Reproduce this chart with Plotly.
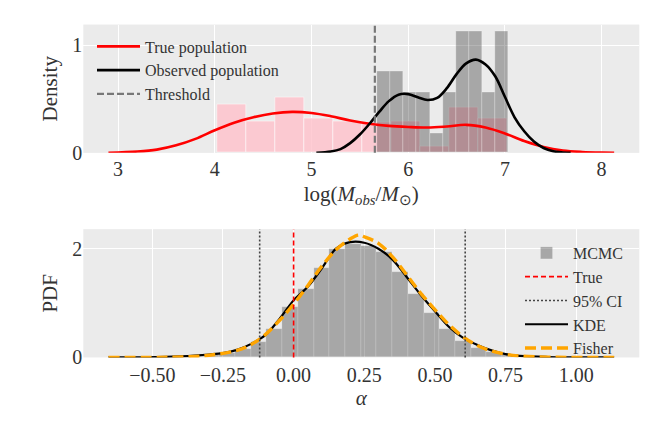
import numpy as np
import plotly.graph_objects as go

# ---------------- Top panel data ----------------
true_hist_edges = [4.03, 4.33, 4.63, 4.93, 5.23, 5.53, 5.83, 6.13, 6.43, 6.73, 7.03]
true_hist_density = [0.45, 0.29, 0.515, 0.32, 0.29, 0.28, 0.295, 0.054, 0.42, 0.32]

obs_hist_edges = [5.683, 5.818, 5.953, 6.088, 6.224, 6.359, 6.494, 6.630, 6.765, 6.900, 7.035]
obs_hist_density = [0.75, 0.75, 0.56, 0.56, 0.18, 0.56, 1.125, 1.125, 0.56, 1.125]

true_kde_x = [2.9, 3.2, 3.4, 3.6, 3.8, 4.0, 4.2, 4.4, 4.6, 4.8, 5.0, 5.2, 5.4, 5.6, 5.8,
              6.0, 6.2, 6.4, 6.6, 6.8, 7.0, 7.2, 7.4, 7.6, 7.8, 8.0, 8.13]
true_kde_y = [0.001, 0.012, 0.03, 0.07, 0.13, 0.21, 0.28, 0.33, 0.365, 0.38, 0.37, 0.34, 0.30,
              0.27, 0.25, 0.24, 0.235, 0.245, 0.26, 0.235, 0.18, 0.11, 0.055, 0.022, 0.008,
              0.002, 0.0005]

obs_kde_x = [5.05, 5.2, 5.3, 5.4, 5.5, 5.6, 5.7, 5.8, 5.9, 6.0, 6.1, 6.2, 6.3, 6.4, 6.5,
             6.6, 6.7, 6.8, 6.9, 7.0, 7.1, 7.2, 7.3, 7.4, 7.5, 7.6, 7.68]
obs_kde_y = [0.0, 0.012, 0.035, 0.09, 0.17, 0.27, 0.38, 0.48, 0.54, 0.545, 0.515, 0.49, 0.51,
             0.6, 0.73, 0.83, 0.865, 0.82, 0.71, 0.52, 0.33, 0.2, 0.105, 0.045, 0.015, 0.004, 0.0]

threshold = 5.655
top_xticks = [3, 4, 5, 6, 7, 8]
top_yticks = [0, 1]

# ---------------- Bottom panel data ----------------
mcmc_edges = list(np.linspace(-0.651, 1.128, 33))
mcmc_density = [0.002, 0.003, 0.005, 0.008, 0.015, 0.03, 0.05, 0.085, 0.15, 0.287, 0.526,
                0.926, 1.253, 1.642, 2.0, 2.09, 2.05, 1.94, 1.565, 1.164, 0.806, 0.526, 0.3,
                0.18, 0.09, 0.05, 0.025, 0.012, 0.006, 0.003, 0.002, 0.001]

kde_x = [-0.655, -0.55, -0.45, -0.4, -0.35, -0.3, -0.25, -0.2, -0.15, -0.1, -0.05, 0.0, 0.05,
         0.1, 0.15, 0.2, 0.25, 0.3, 0.35, 0.4, 0.45, 0.5, 0.55, 0.6, 0.65, 0.7, 0.75, 0.8,
         0.9, 1.0, 1.134]
kde_y = [0.0, 0.003, 0.01, 0.02, 0.035, 0.055, 0.08, 0.14, 0.25, 0.41, 0.71, 1.05, 1.3, 1.64,
         2.0, 2.12, 2.11, 2.0, 1.8, 1.48, 1.15, 0.85, 0.56, 0.36, 0.23, 0.13, 0.06, 0.028,
         0.008, 0.003, 0.0]

fisher_x = [-0.655, -0.5, -0.4, -0.3, -0.2, -0.15, -0.1, -0.05, 0.0, 0.05, 0.1, 0.15, 0.2,
            0.23, 0.25, 0.3, 0.35, 0.4, 0.45, 0.5, 0.55, 0.6, 0.65, 0.7, 0.75, 0.8, 0.9, 1.0,
            1.134]
fisher_y = [0.0, 0.002, 0.008, 0.04, 0.13, 0.24, 0.42, 0.68, 0.98, 1.32, 1.68, 1.98, 2.18,
            2.25, 2.22, 2.1, 1.85, 1.52, 1.18, 0.88, 0.6, 0.38, 0.22, 0.12, 0.06, 0.027, 0.006,
            0.001, 0.0]

alpha_true = 0.0
ci_low, ci_high = -0.12, 0.607
bot_xticks = [-0.5, -0.25, 0.0, 0.25, 0.5, 0.75, 1.0]
bot_xticklabels = ["\u22120.50", "\u22120.25", "0.00", "0.25", "0.50", "0.75", "1.00"]
bot_yticks = [0, 2]


def centers_widths(edges):
    e = np.asarray(edges, dtype=float)
    return (e[:-1] + e[1:]) / 2, np.diff(e)


FONT = "Liberation Serif, Times New Roman, serif"
BG = "#EBEBEB"
TXT = "#333333"

fig = go.Figure()

# Top panel
c, w = centers_widths(true_hist_edges)
fig.add_trace(go.Bar(x=c, y=true_hist_density, width=w, xaxis="x", yaxis="y",
                     marker=dict(color="rgba(255,192,203,0.8)",
                                 line=dict(color="rgba(255,255,255,0.5)", width=1)),
                     showlegend=False, hoverinfo="skip"))
c, w = centers_widths(obs_hist_edges)
fig.add_trace(go.Bar(x=c, y=obs_hist_density, width=w, xaxis="x", yaxis="y",
                     marker=dict(color="rgba(0,0,0,0.29)",
                                 line=dict(color="rgba(255,255,255,0.25)", width=1)),
                     showlegend=False, hoverinfo="skip"))
fig.add_trace(go.Scatter(x=true_kde_x, y=true_kde_y, mode="lines",
                         line=dict(color="red", width=2.6, shape="spline"),
                         name="True population", xaxis="x", yaxis="y", legend="legend"))
fig.add_trace(go.Scatter(x=obs_kde_x, y=obs_kde_y, mode="lines",
                         line=dict(color="black", width=2.6, shape="spline"),
                         name="Observed population", xaxis="x", yaxis="y", legend="legend"))
fig.add_trace(go.Scatter(x=[None], y=[None], mode="lines",
                         line=dict(color="#777777", width=2.2, dash="7px,3px"),
                         name="Threshold", xaxis="x", yaxis="y", legend="legend"))
fig.add_shape(type="line", xref="x", yref="y domain", x0=threshold, x1=threshold, y0=0, y1=1,
              line=dict(color="#777777", width=2.2, dash="7px,3px"))

# Bottom panel
c, w = centers_widths(mcmc_edges)
fig.add_trace(go.Bar(x=c, y=mcmc_density, width=w, xaxis="x2", yaxis="y2",
                     marker=dict(color="rgba(0,0,0,0.29)",
                                 line=dict(color="rgba(255,255,255,0.2)", width=0.8)),
                     name="MCMC", legend="legend2", hoverinfo="skip"))
fig.add_trace(go.Scatter(x=[None], y=[None], mode="lines",
                         line=dict(color="red", width=1.6, dash="5px,3px"),
                         name="True", xaxis="x2", yaxis="y2", legend="legend2"))
fig.add_trace(go.Scatter(x=[None], y=[None], mode="lines",
                         line=dict(color="#444444", width=1.6, dash="2px,2px"),
                         name="95% CI", xaxis="x2", yaxis="y2", legend="legend2"))
fig.add_trace(go.Scatter(x=kde_x, y=kde_y, mode="lines",
                         line=dict(color="black", width=2.2, shape="spline"),
                         name="KDE", xaxis="x2", yaxis="y2", legend="legend2"))
fig.add_trace(go.Scatter(x=fisher_x, y=fisher_y, mode="lines",
                         line=dict(color="orange", width=3.4, dash="11px,5px", shape="spline"),
                         name="Fisher", xaxis="x2", yaxis="y2", legend="legend2"))
fig.add_shape(type="line", xref="x2", yref="y2 domain", x0=alpha_true, x1=alpha_true, y0=0, y1=1,
              line=dict(color="red", width=1.6, dash="5px,3px"))
for v in (ci_low, ci_high):
    fig.add_shape(type="line", xref="x2", yref="y2 domain", x0=v, x1=v, y0=0, y1=1,
                  line=dict(color="#444444", width=1.6, dash="2px,2px"))

# The page body has an 8 px margin on every side; size the figure to fit inside it.
OFF = 8
W, H = 665 - 2 * OFF, 443 - 2 * OFF


def px_x(v):
    return (v - OFF) / W


def px_y(v):
    return 1 - (v - OFF) / H


axis_common = dict(showgrid=True, gridcolor="white", gridwidth=1, zeroline=False,
                   showline=False, ticks="", tickfont=dict(family=FONT, size=20, color=TXT),
                   title_font=dict(family=FONT, size=21, color=TXT))
legend_font = dict(family=FONT, size=16, color=TXT)

fig.update_layout(
    width=W, height=H,
    margin=dict(l=0, r=0, t=0, b=0),
    paper_bgcolor="white", plot_bgcolor=BG,
    barmode="overlay", bargap=0,
    font=dict(family=FONT, color=TXT),
    xaxis=dict(domain=[px_x(83.3), px_x(639.3)], anchor="y", range=[2.64, 8.39],
               tickvals=top_xticks, ticklabelstandoff=2,
               title=dict(text="log(<i>M<sub>obs</sub></i>/<i>M</i><sub>⊙</sub>)", standoff=7),
               **axis_common),
    yaxis=dict(domain=[px_y(156.7), px_y(25)], anchor="x", range=[0, 1.19],
               tickvals=top_yticks, title=dict(text="Density", standoff=8), **axis_common),
    xaxis2=dict(domain=[px_x(83.3), px_x(639.3)], anchor="y2", range=[-0.744, 1.223],
                tickvals=bot_xticks, ticktext=bot_xticklabels, ticklabelstandoff=4,
                title=dict(text="<i>α</i>", standoff=4), **axis_common),
    yaxis2=dict(domain=[px_y(366.7), px_y(235)], anchor="x2", range=[0, 2.36],
                tickvals=bot_yticks, title=dict(text="PDF", standoff=8), **axis_common),
    legend=dict(x=px_x(92), y=px_y(30), xanchor="left", yanchor="top",
                bgcolor="rgba(0,0,0,0)", font=legend_font, tracegroupgap=0, itemwidth=43),
    legend2=dict(x=px_x(520), y=px_y(242), xanchor="left", yanchor="top",
                 bgcolor="rgba(0,0,0,0)", font=legend_font, tracegroupgap=0, itemwidth=43),
)

fig.write_html("out.html")
